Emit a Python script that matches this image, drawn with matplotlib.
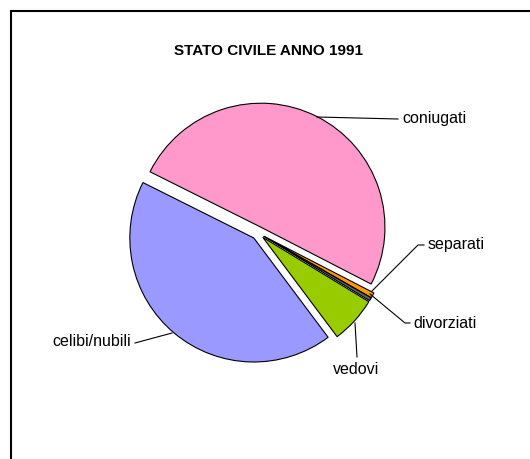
import matplotlib.pyplot as plt
from matplotlib.patches import Rectangle

# data (percent of population)
labels = ['celibi/nubili', 'coniugati', 'separati', 'divorziati', 'vedovi']
values = [42.6, 50.2, 0.7, 0.4, 6.1]
colors = ['#9999FF', '#FF99CC', '#FF9900', '#666666', '#99CC00']

plt.rcParams['font.family'] = ['Liberation Sans', 'DejaVu Sans']

fig = plt.figure(figsize=(5.30, 4.59), dpi=100)
ax = fig.add_axes([0, 0, 1, 1])

# pie in pixel-like coordinates (y up)
ax.pie(values, colors=colors, startangle=-53.2, counterclock=False,
       explode=[6.5] * len(values), center=(258, 226), radius=124,
       wedgeprops={'edgecolor': 'black', 'linewidth': 0.8}, frame=True)

ax.set_xlim(0, 530)
ax.set_ylim(0, 459)
ax.set_aspect('equal')
ax.axis('off')

# chart border
ax.add_patch(Rectangle((11, -20), 560, 459 - 11 + 20, fill=False,
                       edgecolor='black', linewidth=1.5))

ax.text(269, 459 - 51, 'STATO CIVILE ANNO 1991', ha='center', va='center',
        fontsize=11, fontweight='bold')

# labels with leader lines
lw = 0.8
ax.plot([317, 398], [459 - 117, 459 - 119], color='black', lw=lw)
ax.text(402, 459 - 119, 'coniugati', ha='left', va='center', fontsize=11.5)

ax.plot([372, 418, 424], [459 - 291, 459 - 245, 459 - 245], color='black', lw=lw)
ax.text(428, 459 - 245, 'separati', ha='left', va='center', fontsize=11.5)

ax.plot([370, 405, 410], [459 - 294, 459 - 323, 459 - 323], color='black', lw=lw)
ax.text(413, 459 - 323, 'divorziati', ha='left', va='center', fontsize=11.5)

ax.plot([355, 357], [459 - 323, 459 - 357], color='black', lw=lw)
ax.text(356, 459 - 369, 'vedovi', ha='center', va='center', fontsize=11.5)

ax.plot([135, 172], [459 - 343, 459 - 333], color='black', lw=lw)
ax.text(131, 459 - 342, 'celibi/nubili', ha='right', va='center', fontsize=11.5)

fig.savefig('out.png', dpi=100)
